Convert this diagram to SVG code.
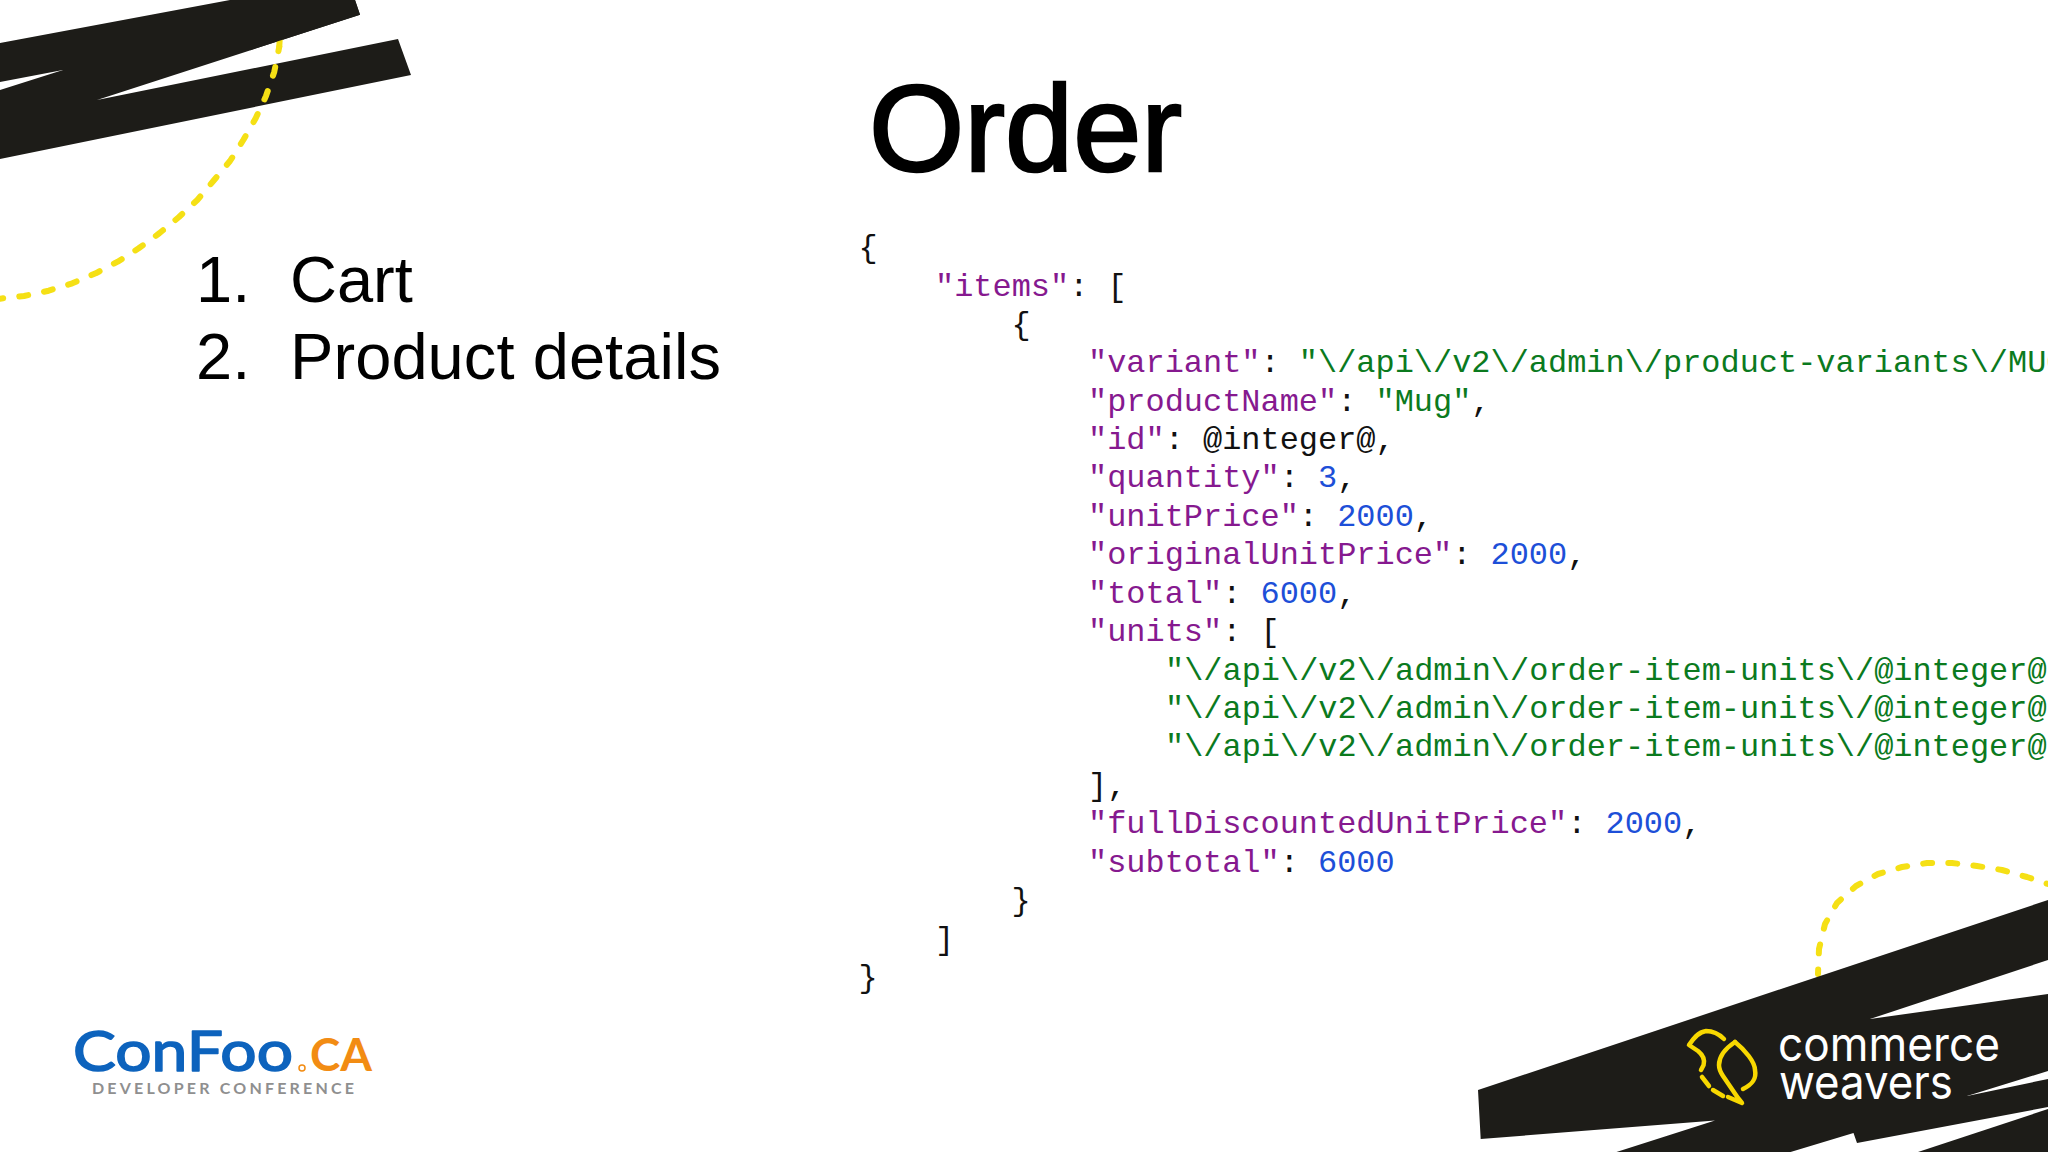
<svg xmlns="http://www.w3.org/2000/svg" width="2048" height="1152" viewBox="0 0 2048 1152">
<style>
.k{font-family:"Liberation Mono",monospace;font-size:31.95px;fill:#111}
.p{fill:#86198f}.g{fill:#0b7a1e}.b{fill:#1d4fd8}
.s{font-family:"Liberation Sans",Arial,sans-serif;fill:#000}
.band{fill:#1d1c18}
.dash{fill:none;stroke:#f5e015;stroke-width:6;stroke-linecap:round;stroke-linejoin:round;stroke-dasharray:9 16.2}
.bird{fill:none;stroke:#f8d800;stroke-width:4.5;stroke-linecap:round;stroke-linejoin:round}
</style>
<rect width="2048" height="1152" fill="#fff"/>
<g id="deco-top-left">
<path class="band" d="M0 43L230 0L355 0L360 14.7L97 100L398 39L411 75L0 159L0 90L63 70L0 82Z"/>
<path class="dash" stroke-dashoffset="4.5" d="M279.3 46.7L274.3 71.7L266 96L255.7 118.3L243.3 140L230 161L213.3 181L197.3 200L179 217L159.3 233.3L138.7 248.3L117.7 261.7L95.7 273.3L72.3 283.3L48.7 290.7L24 296L0 298.7"/>
<path class="dash" stroke-dasharray="none" stroke-linecap="butt" d="M279.8 38L279.3 46"/>
<path class="band" d="M355 0L360 14.7L250 50.2L250 0Z"/>
</g>
<g id="deco-bottom-right">
<path class="dash" stroke-dashoffset="4.5" d="M1818 974L1819 949L1825 924L1837 903L1856 886L1878 874L1902 867L1927 863L1952 863L1977 866L2002 870L2027 877L2048 884"/>
<path class="band" d="M1478 1090L2048 900L2048 960L1870 1019L2048 994L2048 1071L1967 1096L2048 1079L2048 1107L1857 1143L1853.5 1133L1790.6 1152L1616.5 1152L1715 1120.5L1480.7 1139Z"/>
<path class="band" d="M1918 1152L2048 1109L2048 1152Z"/>
</g>
<g id="title"><text class="s" x="869" y="171" font-size="122.5" stroke="#000" stroke-width="2.5">Order</text></g>
<g id="list" class="s" font-size="65">
<text class="s" x="196" y="302">1.</text><text class="s" x="290" y="302">Cart</text>
<text class="s" x="196" y="379">2.</text><text class="s" x="290" y="379" textLength="431">Product details</text>
</g>
<g id="json" class="k">
<text class="k" x="858.5" y="257">{</text>
<text class="k" x="935" y="296"><tspan class="p">"items"</tspan>: [</text>
<text class="k" x="1011.5" y="334">{</text>
<text class="k" x="1088" y="372"><tspan class="p">"variant"</tspan>: <tspan class="g">"\/api\/v2\/admin\/product-variants\/MUG"</tspan></text>
<text class="k" x="1088" y="411"><tspan class="p">"productName"</tspan>: <tspan class="g">"Mug"</tspan>,</text>
<text class="k" x="1088" y="449"><tspan class="p">"id"</tspan>: @integer@,</text>
<text class="k" x="1088" y="487"><tspan class="p">"quantity"</tspan>: <tspan class="b">3</tspan>,</text>
<text class="k" x="1088" y="526"><tspan class="p">"unitPrice"</tspan>: <tspan class="b">2000</tspan>,</text>
<text class="k" x="1088" y="564"><tspan class="p">"originalUnitPrice"</tspan>: <tspan class="b">2000</tspan>,</text>
<text class="k" x="1088" y="603"><tspan class="p">"total"</tspan>: <tspan class="b">6000</tspan>,</text>
<text class="k" x="1088" y="641"><tspan class="p">"units"</tspan>: [</text>
<text class="k g" x="1165" y="680">"\/api\/v2\/admin\/order-item-units\/@integer@"</text>
<text class="k g" x="1165" y="718">"\/api\/v2\/admin\/order-item-units\/@integer@"</text>
<text class="k g" x="1165" y="756">"\/api\/v2\/admin\/order-item-units\/@integer@"</text>
<text class="k" x="1088" y="795">],</text>
<text class="k" x="1088" y="833"><tspan class="p">"fullDiscountedUnitPrice"</tspan>: <tspan class="b">2000</tspan>,</text>
<text class="k" x="1088" y="872"><tspan class="p">"subtotal"</tspan>: <tspan class="b">6000</tspan></text>
<text class="k" x="1011.5" y="910">}</text>
<text class="k" x="935" y="949">]</text>
<text class="k" x="858.5" y="987">}</text>
</g>
<g id="confoo-logo">
<text x="73" y="1071" font-family="Lato,sans-serif" font-size="57" textLength="220" lengthAdjust="spacingAndGlyphs" fill="#0d63bd" stroke="#0d63bd" stroke-width="1.6" stroke-linejoin="round">ConFoo</text>
<circle cx="302" cy="1068" r="3" fill="none" stroke="#f28c13" stroke-width="1.5"/>
<text x="310" y="1071" font-family="Lato,sans-serif" font-size="46" font-weight="700" textLength="62" lengthAdjust="spacingAndGlyphs" fill="#f28c13">CA</text>
<text x="92" y="1094" font-family="Lato,sans-serif" font-size="16" font-weight="700" textLength="262" fill="#8f8f8f">DEVELOPER CONFERENCE</text>
</g>
<g id="commerce-weavers-logo">
<path class="bird" d="M1724 1039C1718 1033 1712 1031 1706 1031C1698 1032 1693 1039 1689 1045L1698 1051C1703 1055 1705 1060 1703.6 1065L1701 1070"/>
<path class="bird" d="M1702 1077L1709 1086M1713 1090L1723 1096"/>
<path class="bird" d="M1735 1042C1726 1048 1719 1056 1719 1065C1719 1070 1721 1073 1723 1076L1738 1098L1742 1103L1728 1097"/>
<path class="bird" d="M1735 1042C1745 1050 1755 1062 1755 1070C1757 1080 1751 1085 1743 1089"/>
<text x="1778" y="1060.5" font-family="Inter,sans-serif" font-size="47" font-weight="400" fill="#fff" textLength="222" lengthAdjust="spacingAndGlyphs">commerce</text>
<text x="1779" y="1099" font-family="Inter,sans-serif" font-size="47" font-weight="400" fill="#fff" textLength="174" lengthAdjust="spacingAndGlyphs">weavers</text>
</g>
</svg>
